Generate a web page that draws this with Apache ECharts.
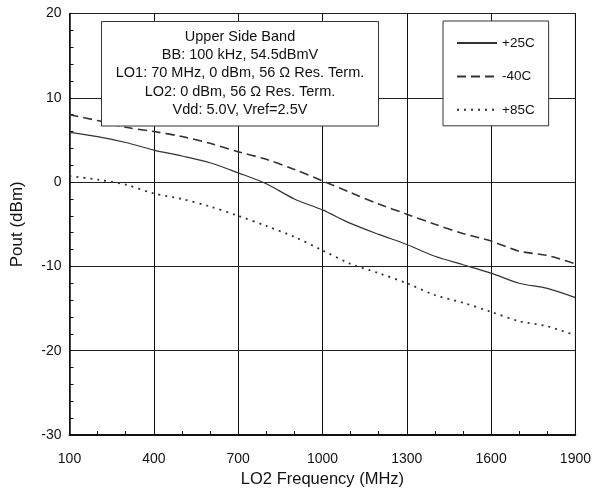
<!DOCTYPE html>
<html>
<head>
<meta charset="utf-8">
<script src="https://cdn.jsdelivr.net/npm/echarts@6/dist/echarts.min.js"></script>
<style>
html,body{margin:0;padding:0;background:#fff;}
#chart{width:594px;height:493px;}
</style>
</head>
<body>
<div id="chart"></div>
<script>
// LO2 frequency (MHz)
var freq = [100,200,300,400,500,600,700,800,900,1000,1100,1200,1300,1400,1500,1600,1700,1800,1900];
// Pout (dBm) per temperature
var p25 = [5.9,5.4,4.7,3.8,3.1,2.3,1.1,-0.2,-2.0,-3.3,-4.9,-6.2,-7.4,-8.8,-9.8,-10.8,-12.0,-12.6,-13.7];
var m40 = [8.0,7.3,6.5,6.0,5.4,4.6,3.6,2.7,1.5,0.15,-1.25,-2.6,-3.8,-5.0,-6.1,-7.0,-8.2,-8.7,-9.7];
var p85 = [0.7,0.3,-0.3,-1.35,-2.0,-2.9,-4.0,-5.2,-6.5,-8.1,-9.7,-10.8,-12.0,-13.4,-14.3,-15.4,-16.5,-17.1,-18.2];
var seriesNames = ['+25C','-40C','+85C'];
var xTicks = [100,400,700,1000,1300,1600,1900];
var yTicks = [-30,-20,-10,0,10,20];
var noteLines = ['Upper Side Band','BB: 100 kHz, 54.5dBmV','LO1: 70 MHz, 0 dBm, 56 Ω Res. Term.','LO2: 0 dBm, 56 Ω Res. Term.','Vdd: 5.0V, Vref=2.5V'];

function pairs(ys){ return freq.map(function(f,i){ return [f, ys[i]]; }); }

var font = 'Liberation Sans, Arial, Helvetica, sans-serif';
var chart = echarts.init(document.getElementById('chart'), null, {renderer:'canvas'});
var lineColor = '#333';
var option = {
  animation:false,
  backgroundColor:'#fff',
  textStyle:{fontFamily:font},
  grid:{left:69.5, right:15.5, top:13.5, bottom:57, show:true, borderColor:'#222', borderWidth:1, containLabel:false},
  xAxis:{
    type:'value', min:xTicks[0], max:xTicks[xTicks.length-1], interval:300,
    name:'LO2 Frequency (MHz)', nameLocation:'middle', nameGap:36,
    nameTextStyle:{fontSize:16.5, color:'#111', fontFamily:font},
    axisLine:{show:true, onZero:false, lineStyle:{color:'#111', width:1.8}},
    axisTick:{show:true, inside:true, length:4, lineStyle:{color:'#111'}},
    minorTick:{show:true, splitNumber:3, length:4, lineStyle:{color:'#111'}},
    axisLabel:{fontSize:14, color:'#111', margin:17, fontFamily:font, formatter:function(v){return String(v);}},
    splitLine:{show:true, lineStyle:{color:'#111', width:1}}
  },
  yAxis:{
    type:'value', min:yTicks[0], max:yTicks[yTicks.length-1], interval:10,
    name:'Pout (dBm)', nameLocation:'middle', nameGap:44,
    nameTextStyle:{fontSize:17, color:'#111', fontFamily:font},
    axisLine:{show:true, onZero:false, lineStyle:{color:'#111', width:1.5}},
    axisTick:{show:true, inside:true, length:4, lineStyle:{color:'#111'}},
    minorTick:{show:true, splitNumber:5, length:4, lineStyle:{color:'#111'}},
    axisLabel:{fontSize:14, color:'#111', margin:8, fontFamily:font, formatter:function(v){return String(v);}},
    splitLine:{show:true, lineStyle:{color:'#222', width:1}}
  },
  legend:{
    show:true, orient:'vertical', left:443, top:21,
    padding:[15,14,9,13], itemGap:19.4, itemWidth:40, itemHeight:14,
    backgroundColor:'#fff', borderColor:'#333', borderWidth:1, borderRadius:0,
    itemStyle:{opacity:0},
    textStyle:{fontSize:13.5, color:'#111', fontFamily:font},
    data:seriesNames
  },
  series:[
    {name:seriesNames[0], type:'line', data:pairs(p25), smooth:0.3, showSymbol:false, symbol:'none',
      lineStyle:{color:lineColor, width:1.2, type:'solid'}, itemStyle:{color:lineColor}},
    {name:seriesNames[1], type:'line', data:pairs(m40), smooth:0.3, showSymbol:false, symbol:'none',
      lineStyle:{color:lineColor, width:1.6, type:[9,5]}, itemStyle:{color:lineColor}},
    {name:seriesNames[2], type:'line', data:pairs(p85), smooth:0.3, showSymbol:false, symbol:'none',
      lineStyle:{color:lineColor, width:1.8, type:[2,5]}, itemStyle:{color:lineColor}}
  ],
  graphic:[
    {type:'rect', z:100, shape:{x:101.5, y:21.5, width:277, height:104.5},
      style:{fill:'#fff', stroke:'#333', lineWidth:1}}
  ]
};
noteLines.forEach(function(t,i){
  option.graphic.push({type:'text', z:101, x:240, y:36.9 + i*18.2,
    style:{text:t, fontSize:14.5, fill:'#111', fontFamily:font, align:'center', verticalAlign:'middle'}});
});
chart.setOption(option);
</script>
</body>
</html>
